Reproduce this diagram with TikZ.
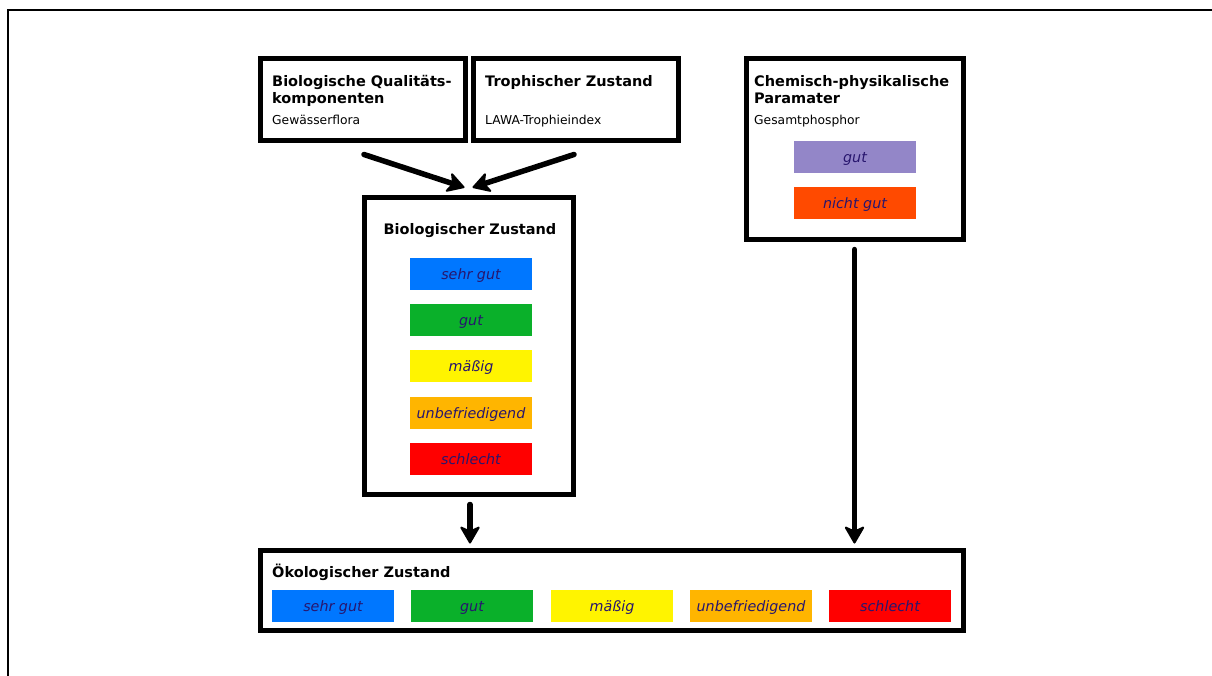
\documentclass[tikz,border=0pt]{standalone}
\usepackage{fontspec}
\setmainfont{DejaVu Sans}
\usetikzlibrary{arrows.meta}
\definecolor{cSehr}{RGB}{0,119,255}
\definecolor{cGut}{RGB}{10,176,42}
\definecolor{cMaes}{RGB}{255,244,0}
\definecolor{cUnbef}{RGB}{255,181,0}
\definecolor{cSchl}{RGB}{255,0,0}
\definecolor{cPurp}{RGB}{147,134,200}
\definecolor{cNicht}{RGB}{255,74,0}
\definecolor{cTxt}{RGB}{40,22,110}
\tikzset{
  box/.style={draw=black, line width=5pt, fill=white, rectangle, inner sep=0pt},
  bar/.style={rectangle, inner sep=0pt, minimum width=122pt, minimum height=32pt, text height=11pt, text depth=1pt, text=cTxt, font=\fontsize{14.3}{16}\selectfont\itshape},
  head/.style={anchor=base west, inner sep=0pt, font=\fontsize{14.5}{16}\selectfont\bfseries},
  sub/.style={anchor=base west, inner sep=0pt, font=\fontsize{12.3}{14}\selectfont},
  conn/.style={line width=5.5pt, line cap=round, -{Stealth[length=19pt,width=22pt,inset=5pt,line width=2pt,fill=black,round]}}
}
\begin{document}
\begin{tikzpicture}[x=1pt,y=-1pt]
\useasboundingbox (0,0) rectangle (1212,675);
\draw[line width=2pt] (8,720) -- (8,10) -- (1230,10);
% boxes
\node[box, minimum width=205pt, minimum height=82pt] (A) at (362.5,99) {};
\node[box, minimum width=205pt, minimum height=82pt] (B) at (575.5,99) {};
\node[box, minimum width=217pt, minimum height=181pt] (C) at (854.5,148.5) {};
\node[box, minimum width=209pt, minimum height=297pt] (D) at (468.5,345.5) {};
\node[box, minimum width=703pt, minimum height=80pt] (E) at (611.5,590) {};
% texts
\node[head] (At1) at (272,86) {Biologische Qualitäts-};
\node[head] (At2) at (272,103) {komponenten};
\node[sub] (At3) at (272,124) {Gewässerflora};
\node[head] (Bt1) at (485,86) {Trophischer Zustand};
\node[sub] (Bt3) at (485,124) {LAWA-Trophieindex};
\node[head] (Ct1) at (754,86) {Chemisch-physikalische};
\node[head] (Ct2) at (754,103) {Paramater};
\node[sub] (Ct3) at (754,124) {Gesamtphosphor};
\node[head, anchor=base] (Dt1) at (470,234) {Biologischer Zustand};
\node[head] (Et1) at (272,577) {Ökologischer Zustand};
% bars in C
\node[bar, fill=cPurp] (C1) at (855,157) {gut};
\node[bar, fill=cNicht] (C2) at (855,203) {nicht gut};
% bars in D
\node[bar, fill=cSehr] (D1) at (471,274) {sehr gut};
\node[bar, fill=cGut] (D2) at (471,320) {gut};
\node[bar, fill=cMaes] (D3) at (471,366) {mäßig};
\node[bar, fill=cUnbef] (D4) at (471,413) {unbefriedigend};
\node[bar, fill=cSchl] (D5) at (471,459) {schlecht};
% bars in E
\node[bar, fill=cSehr] (E1) at (333,606) {sehr gut};
\node[bar, fill=cGut] (E2) at (472,606) {gut};
\node[bar, fill=cMaes] (E3) at (612,606) {mäßig};
\node[bar, fill=cUnbef] (E4) at (751,606) {unbefriedigend};
\node[bar, fill=cSchl] (E5) at (890,606) {schlecht};
% connectors
\draw[conn] ([xshift=1.5pt,yshift=-12pt]A.south) -- ([xshift=-4pt,yshift=7pt]D.north);
\draw[conn] ([xshift=-1.5pt,yshift=-12pt]B.south) -- ([xshift=4pt,yshift=7pt]D.north);
\draw[conn] ([xshift=1.5pt,yshift=-8pt]D.south) -- ([xshift=1.5pt,yshift=4pt]D.south |- E.north);
\draw[conn] ([yshift=-8pt]C.south) -- ([yshift=4pt]C.south |- E.north);
\end{tikzpicture}
\end{document}
